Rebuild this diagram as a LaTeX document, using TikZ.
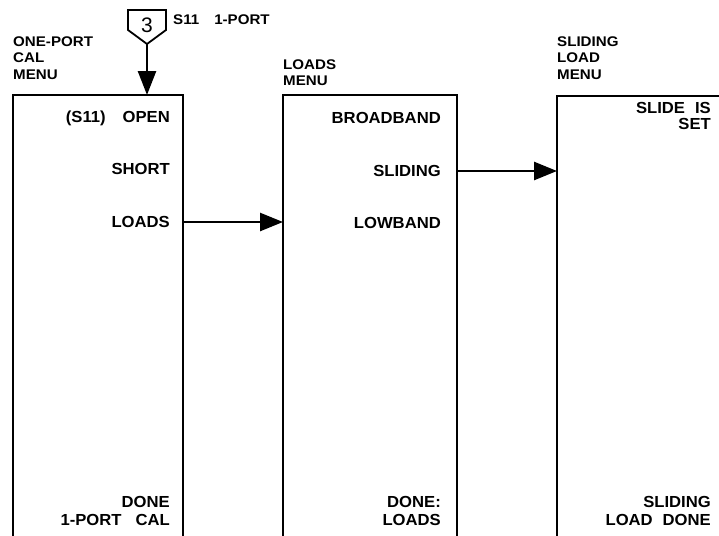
\documentclass[tikz,border=0pt]{standalone}
\usepackage{fontspec}
\setmainfont{Liberation Sans}
\newfontfamily\widebold[FakeStretch=1.08]{Liberation Sans Bold}
\newfontfamily\itembold[FakeStretch=1.04]{Liberation Sans Bold}
\usetikzlibrary{arrows.meta}
\tikzset{
  lbl/.style={font=\widebold\fontsize{14}{16.5}\selectfont, inner sep=0pt, align=left},
  item/.style={font=\itembold\fontsize{16}{18}\selectfont, inner sep=0pt, align=right, anchor=east},
  boxline/.style={line width=2.4pt},
  bigarrow/.style={line width=2.6pt, -{Triangle[length=23pt,width=18pt]}},
}
\begin{document}
\begin{tikzpicture}[x=1pt,y=-1pt]
\useasboundingbox (0,0) rectangle (719,535);
% boxes (open at bottom)
\draw[boxline] (13,536) -- (13,95) -- (183,95) -- (183,536);
\draw[boxline] (283,536) -- (283,95) -- (457,95) -- (457,536);
\draw[boxline] (557,536) -- (557,96) -- (720,96);
\coordinate (b1r) at (183,222);
\coordinate (b2l) at (283,222);
\coordinate (b2r) at (457,171);
\coordinate (b3l) at (557,171);
% menu titles
\node[lbl, anchor=west] (t1) at (13,58) {ONE-PORT\\CAL\\MENU};
\node[lbl, anchor=west] (t2) at (283,72.5) {LOADS\\MENU};
\node[lbl, anchor=west] (t3) at (557,58) {SLIDING\\LOAD\\MENU};
% softkey symbol
\draw[line width=1.8pt, line join=miter] (128,10) -- (166,10) -- (166,30) -- (147,44) -- (128,30) -- cycle;
\node[font=\fontsize{21}{21}\selectfont, inner sep=0pt] (k3) at (147,25) {3};
\coordinate (kap) at (147,44);
\coordinate (b1t) at (147,95);
\draw[line width=2.6pt, -{Triangle[length=24pt,width=18pt]}] (kap) -- (b1t);
\node[lbl, anchor=west] (s11) at (173,20) {S11\hspace{15pt}1-PORT};
% box 1 items
\node[item] (open) at (170,118) {(S11)\hspace{17pt}OPEN};
\node[item] (short) at (170,169) {SHORT};
\node[item] (loads) at (170,221.5) {LOADS};
\node[item] (done1) at (170,510.5) {DONE\\1-PORT\hspace{14pt}CAL};
% box 2 items
\node[item] (bb) at (441,118) {BROADBAND};
\node[item] (sl) at (441,170.5) {SLIDING};
\node[item] (lb) at (441,222.5) {LOWBAND};
\node[item] (done2) at (441,510.5) {DONE:\\LOADS};
% box 3 items
\node[item, font=\itembold\fontsize{16}{16}\selectfont] (slide) at (711,116) {SLIDE\hspace{10pt}IS\\SET};
\node[item] (done3) at (711,510.5) {SLIDING\\LOAD\hspace{10pt}DONE};
% arrows
\draw[bigarrow] (b1r) -- (b2l);
\draw[bigarrow] (b2r) -- (b3l);
\end{tikzpicture}
\end{document}
